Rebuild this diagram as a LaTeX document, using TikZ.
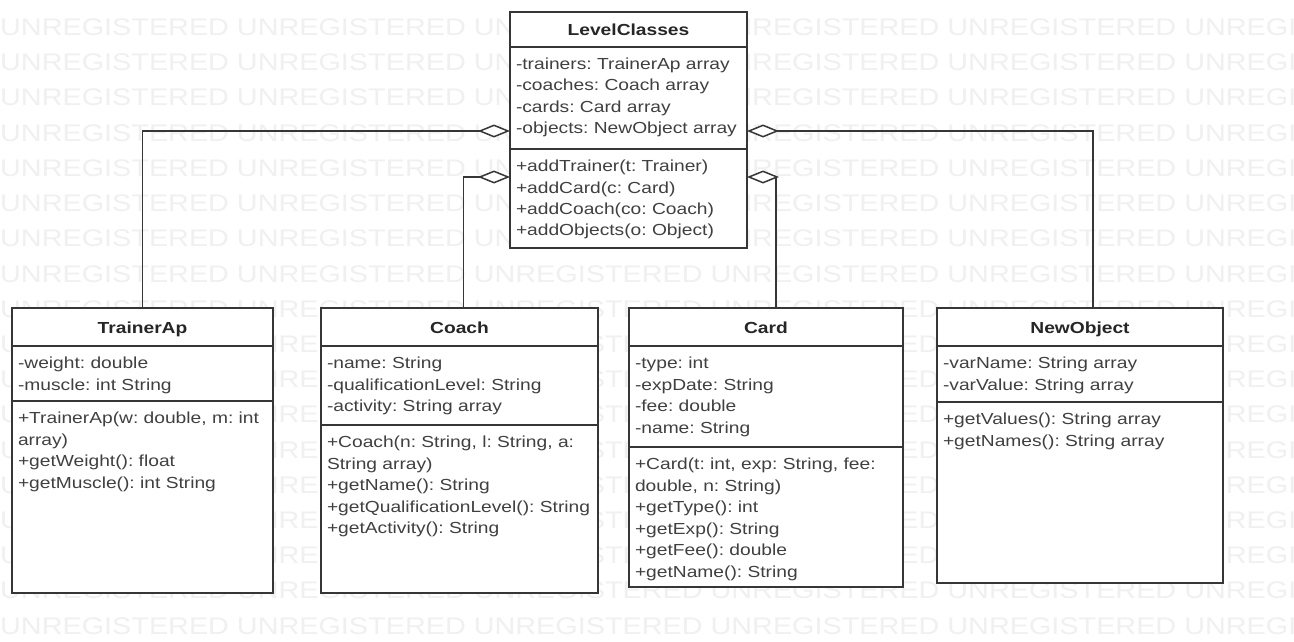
\documentclass[tikz,border=0pt]{standalone}
\usepackage{fontspec}
\setmainfont{Liberation Sans}[FakeStretch=1.2]
\usetikzlibrary{positioning,arrows.meta}
\frenchspacing

\definecolor{umlline}{HTML}{363636}
\definecolor{umltext}{HTML}{404040}
\definecolor{umlmark}{HTML}{F0F0F0}

\begin{document}
\begin{tikzpicture}[x=1pt,y=-1pt,
  wmark/.style={anchor=base west, inner sep=0pt, text=umlmark, font=\fontsize{24}{24}\selectfont},
  title/.style={draw=umlline, line width=1.5pt, fill=white, outer sep=0pt, inner sep=0pt, anchor=north west,
    minimum width=#1, minimum height=38pt, text height=12pt, text depth=0pt,
    font=\bfseries\fontsize{16}{20}\selectfont, text=black!85},
  part/.style 2 args={draw=umlline, line width=1.5pt, fill=white, outer sep=0pt, inner xsep=6pt, inner ysep=7pt,
    text width={#1-12pt}, text height=15.5pt, text depth={#2-29.5pt}, align=left,
    font=\fontsize{16}{21.5}\selectfont, text=umltext},
  agg/.style={draw=umlline, line width=1.5pt, -{Diamond[length=32pt,width=13pt,fill=white]}}]

\useasboundingbox[fill=white] (0,0) rectangle (1294,642);
\begin{scope}
\clip (0,0) rectangle (1294,642);
\foreach \row in {0,...,17}
  \node[wmark] (mark\row) at (0,35.6+35.2*\row) {UNREGISTERED UNREGISTERED UNREGISTERED UNREGISTERED UNREGISTERED UNREGISTERED};
\end{scope}

\node[title=237pt, minimum height=35pt] (lc) at (510,12) {LevelClasses};
\node[part={237pt}{102pt}, below=0pt of lc] (lc-a) {-trainers: TrainerAp array\\-coaches: Coach array\\-cards: Card array\\-objects: NewObject array};
\node[part={237pt}{99pt}, below=0pt of lc-a] (lc-m) {+addTrainer(t: Trainer)\\+addCard(c: Card)\\+addCoach(co: Coach)\\+addObjects(o: Object)};

\node[title=261pt] (ta) at (12,308) {TrainerAp};
\node[part={261pt}{55pt}, below=0pt of ta] (ta-a) {-weight: double\\-muscle: int String};
\node[part={261pt}{192pt}, below=0pt of ta-a] (ta-m) {+TrainerAp(w: double, m: int\\array)\\+getWeight(): float\\+getMuscle(): int String};

\node[title=277pt] (co) at (321,308) {Coach};
\node[part={277pt}{79pt}, below=0pt of co] (co-a) {-name: String\\-qualificationLevel: String\\-activity: String array};
\node[part={277pt}{168pt}, below=0pt of co-a] (co-m) {+Coach(n: String, l: String, a:\\String array)\\+getName(): String\\+getQualificationLevel(): String\\+getActivity(): String};

\node[title=274pt] (ca) at (629,308) {Card};
\node[part={274pt}{101pt}, below=0pt of ca] (ca-a) {-type: int\\-expDate: String\\-fee: double\\-name: String};
\node[part={274pt}{140pt}, below=0pt of ca-a] (ca-m) {+Card(t: int, exp: String, fee:\\double, n: String)\\+getType(): int\\+getExp(): String\\+getFee(): double\\+getName(): String};

\node[title=286pt] (no) at (937,308) {NewObject};
\node[part={286pt}{56pt}, below=0pt of no] (no-a) {-varName: String array\\-varValue: String array};
\node[part={286pt}{181pt}, below=0pt of no-a] (no-m) {+getValues(): String array\\+getNames(): String array};

\draw[agg] (ta.north) |- ([yshift=18pt]lc-a.south west);
\draw[agg] ([xshift=4pt]co.north) |- ([yshift=-28pt]lc-m.north west);
\draw[agg] ([xshift=10pt]ca.north) |- ([yshift=-28pt]lc-m.north east);
\draw[agg] ([xshift=13pt]no.north) |- ([yshift=18pt]lc-a.south east);
\end{tikzpicture}
\end{document}
